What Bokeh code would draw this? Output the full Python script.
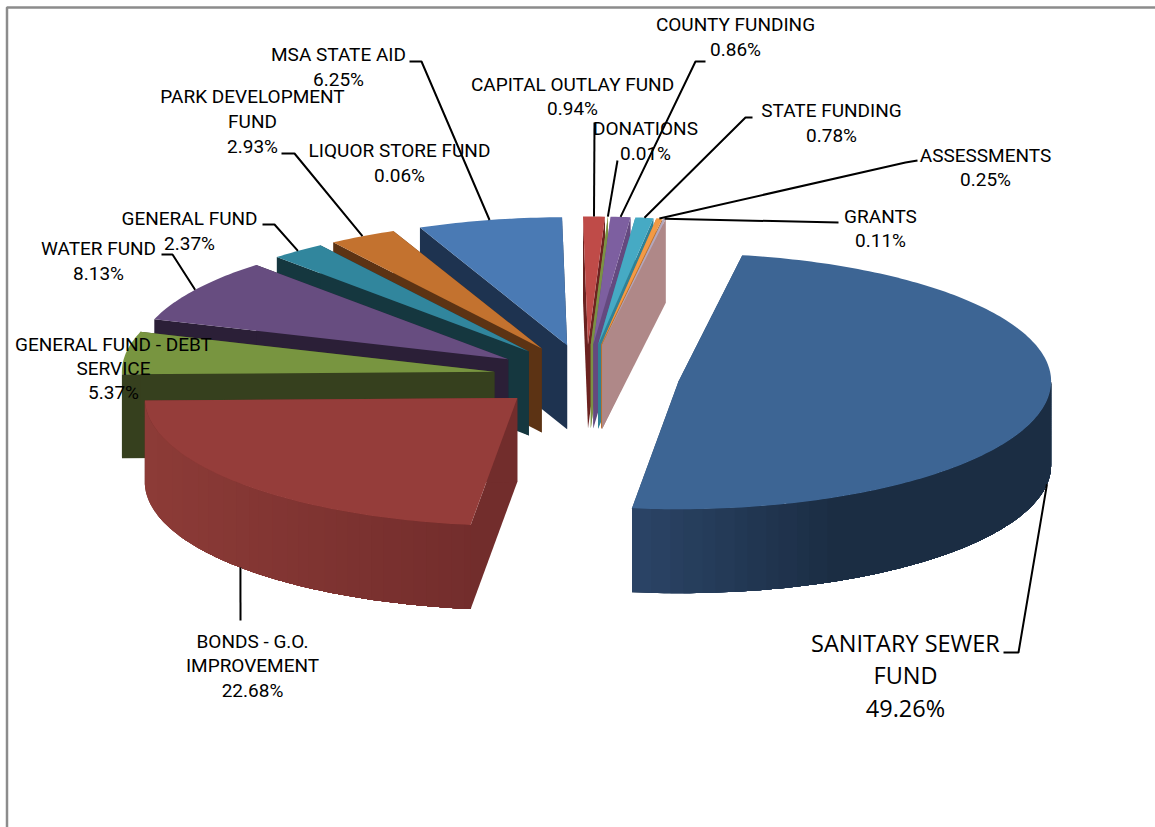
import math
from bokeh.plotting import figure
from bokeh.models import Range1d
from bokeh.core.properties import value
from bokeh.embed import file_html
from bokeh.resources import INLINE

# ---- data ----
categories = ["SANITARY SEWER FUND", "BONDS - G.O. IMPROVEMENT", "GENERAL FUND - DEBT SERVICE",
              "WATER FUND", "GENERAL FUND", "PARK DEVELOPMENT FUND", "LIQUOR STORE FUND",
              "MSA STATE AID", "CAPITAL OUTLAY FUND", "DONATIONS", "COUNTY FUNDING",
              "STATE FUNDING", "ASSESSMENTS", "GRANTS"]
percents = [49.26, 22.68, 5.37, 8.13, 2.37, 2.93, 0.06, 6.25, 0.94, 0.01, 0.86, 0.78, 0.25, 0.11]

# ---- styles ----
# the 0.06% slice leaves no visible mark in the picture, so it takes no colour
top_colors = ["#3D6594", "#953D3A", "#789540", "#674D80", "#31869D", "#C3722F", None,
              "#4A7AB4", "#BF4B48", "#9BB957", "#7D5FA0", "#46AAC4", "#F39A45", "#B3A8BE"]
wall_light = ["#2B4466", "#8D3B37", "#36401E", "#2B1F37", "#15373F", "#5C3314", None,
              "#1E3350", "#6B2220", "#7B9143", "#64497F", "#2F8196", "#B87232", "#AF8888"]
wall_dark = ["#1A2C42", "#722D2C", "#36401E", "#2B1F37", "#15373F", "#5C3314", None,
             "#1E3350", "#6B2220", "#7B9143", "#64497F", "#2F8196", "#B87232", "#AF8888"]
wall_knee = {0: 0.5}

# ---- projection of the tilted pie ----
CX, CY = 586.0, 376.0
RX, RY = 372.5, 128.0
DEPTH = 84.0
EXPLODE = 0.25
FIRST_ANGLE = 9.85


def hex2rgb(h):
    return tuple(int(h[i:i + 2], 16) for i in (1, 3, 5))


def mix(a, b, t):
    ra, rb = hex2rgb(a), hex2rgb(b)
    return "#%02X%02X%02X" % tuple(round(ra[i] + (rb[i] - ra[i]) * t) for i in range(3))


def rim(theta, cx, cy, dy=0.0):
    r = math.radians(theta)
    return cx + RX * math.sin(r), cy - RY * math.cos(r) + dy


def arc_angles(a, b, step=1.0):
    n = max(1, int(math.ceil((b - a) / step)))
    return [a + (b - a) * i / n for i in range(n + 1)]


total = sum(percents)
slices = []
acc = FIRST_ANGLE
for i, v in enumerate(percents):
    s = acc
    e = acc + v / total * 360.0
    acc = e
    m = math.radians((s + e) / 2)
    cx = CX + EXPLODE * RX * math.sin(m)
    cy = CY - EXPLODE * RY * math.cos(m)
    slices.append(dict(i=i, s=s, e=e, mid=(s + e) / 2, cx=cx, cy=cy, key=-math.cos(m)))

xs, ys, cols = [], [], []


def add(pts, col):
    xs.append([q[0] for q in pts])
    ys.append([q[1] for q in pts])
    cols.append(col)


for sl in sorted(slices, key=lambda d: d["key"]):
    i, s, e, cx, cy = sl["i"], sl["s"], sl["e"], sl["cx"], sl["cy"]
    if top_colors[i] is None:
        continue
    # flat cut walls
    for th in (s, e):
        p0 = rim(th, cx, cy)
        add([(cx, cy), p0, (p0[0], p0[1] + DEPTH), (cx, cy + DEPTH)],
            wall_dark[i] if i != 0 else wall_light[i])
    # curved outer wall: a whole backing band, then overlapping shaded strips
    a, b = max(s, 90.0), min(e, 270.0)
    if b > a:
        angs = arc_angles(a, b, 1.0)
        add([rim(t, cx, cy) for t in angs] + [rim(t, cx, cy, DEPTH) for t in reversed(angs)], wall_dark[i])
        if wall_light[i] != wall_dark[i]:
            xvals = [rim(t, cx, cy)[0] for t in angs]
            xmin, xmax = min(xvals), max(xvals)
            knee = wall_knee.get(i, 1.0)
            nb = 26
            # light end first, so each later strip covers the seam of the one before
            for k in range(nb):
                frac = (k + 0.5) / nb
                if frac / knee >= 1.0:
                    continue
                x0 = xmin + (xmax - xmin) * k / nb
                chosen = [t for t in angs if rim(t, cx, cy)[0] >= x0 - 1e-9]
                pts = [rim(t, cx, cy) for t in chosen] + [rim(t, cx, cy, DEPTH) for t in reversed(chosen)]
                if len(pts) >= 4:
                    add(pts, mix(wall_light[i], wall_dark[i], frac / knee))
    # top face
    add([(cx, cy)] + [rim(t, cx, cy) for t in arc_angles(s, e)], top_colors[i])

W, H = 1155, 827
p = figure(width=W, height=H, x_range=Range1d(0, W), y_range=Range1d(H, 0),
           toolbar_location=None, output_backend="svg", min_border=0,
           x_axis_location=None, y_axis_location=None, outline_line_color=None,
           background_fill_color="white", border_fill_color="white")
p.grid.visible = False

# chart frame (only its top and left edges are in view)
p.line([6.5, 6.5, 1155], [827, 7, 7], line_color="#8C8C8C", line_width=2.5)

p.patches(xs, ys, fill_color=cols, line_color=None)

# ---- leaders: fixed elbows, ending at the slice they name ----
leaders = {
    0: [(1003, 652), (1018, 652)],
    1: [(240, 620)],
    3: [(161, 254), (172, 254)],
    4: [(262, 224), (274, 224)],
    5: [(281, 153), (294, 153)],
    7: [(409, 61), (421, 61)],
    8: [(594, 122)],
    9: [(617, 160)],
    10: [(705, 61), (695, 61)],
    11: [(752, 117), (745, 117)],
    12: [(917, 160), (905, 162)],
    13: [(838, 222)],
}
for i, pts in leaders.items():
    sl = slices[i]
    th = sl["mid"]
    front = -math.cos(math.radians(th)) > 0.1
    end = rim(th, sl["cx"], sl["cy"], DEPTH if front else 0.0)
    p.line([q[0] for q in pts] + [end[0]], [q[1] for q in pts] + [end[1]],
           line_color="black", line_width=2)

# ---- labels ----
LABEL_FONT = "Roboto"
labels = [
    (1, 252, [641, 665, 690], ["BONDS - G.O.", "IMPROVEMENT"]),
    (2, 113, [344, 368, 392], ["GENERAL FUND - DEBT", "SERVICE"]),
    (3, 98, [248, 273], ["WATER FUND"]),
    (4, 189, [218, 243], ["GENERAL FUND"]),
    (5, 252, [96, 121, 146], ["PARK DEVELOPMENT", "FUND"]),
    (6, 399, [150, 175], ["LIQUOR STORE FUND"]),
    (7, 338, [54, 79], ["MSA STATE AID"]),
    (8, 572, [84, 108], ["CAPITAL OUTLAY FUND"]),
    (9, 645, [128, 153], ["DONATIONS"]),
    (10, 735, [24, 49], ["COUNTY FUNDING"]),
    (11, 831, [110, 135], ["STATE FUNDING"]),
    (12, 985, [155, 179], ["ASSESSMENTS"]),
    (13, 880, [216, 240], ["GRANTS"]),
]
for i, x, yy, lines in labels:
    rows = lines + ["%.2f%%" % percents[i]]
    p.text([x] * len(rows), yy, text=rows, text_font=value(LABEL_FONT), text_font_size="19px",
           text_align="center", text_baseline="middle", text_color="black")

rows = ["SANITARY SEWER", "FUND", "%.2f%%" % percents[0]]
p.text([905] * 3, [642, 674, 707], text=rows, text_font=value("Open Sans"), text_font_size="23.5px",
       text_align="center", text_baseline="middle", text_color="black")

open("out.html", "w").write(file_html(p, INLINE))
